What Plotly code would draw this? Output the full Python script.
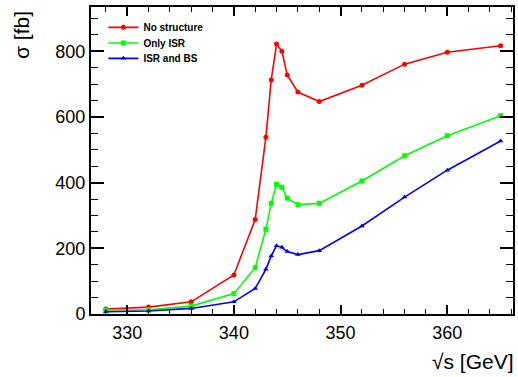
import plotly.graph_objects as go

sqrt_s = [328, 332, 336, 340, 342, 343, 343.5, 344, 344.5, 345, 346, 348, 352, 356, 360, 365]
no_structure = [15, 21, 37, 119, 288, 538, 713, 822, 800, 728, 676, 647, 697, 761, 797, 817]
only_isr = [12, 13, 24, 62, 141, 258, 337, 395, 386, 353, 333, 337, 405, 482, 543, 604]
isr_and_bs = [7, 9, 17, 37, 78, 136, 177, 208, 203, 190, 181, 193, 268, 356, 438, 527]

FONT = "Liberation Sans, Arial, sans-serif"

fig = go.Figure()
fig.add_trace(go.Scatter(x=sqrt_s, y=no_structure, mode="lines+markers", name="No structure",
                         legend="legend",
                         line=dict(color="#ff0000", width=1.6),
                         marker=dict(symbol="circle", size=5, color="#ff0000")))
fig.add_trace(go.Scatter(x=sqrt_s, y=only_isr, mode="lines+markers", name="Only ISR",
                         legend="legend2",
                         line=dict(color="#00ff00", width=1.6),
                         marker=dict(symbol="square", size=5, color="#00ff00")))
fig.add_trace(go.Scatter(x=sqrt_s, y=isr_and_bs, mode="lines+markers", name="ISR and BS",
                         legend="legend3",
                         line=dict(color="#0000ff", width=1.6),
                         marker=dict(symbol="triangle-up", size=5, color="#0000ff")))

axis_common = dict(showline=True, linecolor="black", linewidth=2, mirror="allticks",
                   ticks="inside", tickcolor="black", showgrid=False, zeroline=False,
                   tickfont=dict(family=FONT, size=18, color="black"))

fig.update_xaxes(range=[326.61, 366.16], tickmode="array", tickvals=[330, 340, 350, 360],
                 ticklen=9, tickwidth=1.5, ticklabelstandoff=1,
                 minor=dict(ticks="inside", dtick=2, tick0=0, ticklen=5, tickcolor="black", tickwidth=1.2),
                 **axis_common)
fig.update_yaxes(range=[0, 935], tickmode="array", tickvals=[0, 200, 400, 600, 800],
                 ticklen=13, tickwidth=1.5,
                 minor=dict(ticks="inside", dtick=50, tick0=0, ticklen=7, tickcolor="black", tickwidth=1.2),
                 **axis_common)

def leg(y):
    return dict(x=0.0294, y=y, xanchor="left", yanchor="top",
                bgcolor="rgba(0,0,0,0)", borderwidth=0,
                font=dict(family=FONT, size=10, color="black", weight="bold"),
                itemwidth=30)

fig.update_layout(
    width=518, height=377,
    margin=dict(l=91, r=3, t=7, b=63),
    paper_bgcolor="white", plot_bgcolor="white",
    showlegend=True,
    legend=leg(0.981),
    legend2=leg(0.930),
    legend3=leg(0.880),
    annotations=[
        dict(text="√s [GeV]", xref="paper", yref="paper", x=1.0, y=-0.155,
             xanchor="right", yanchor="middle", showarrow=False, xshift=3,
             font=dict(family=FONT, size=21, color="black")),
        dict(text="σ [fb]", xref="paper", yref="paper", x=-0.165, y=0.91,
             xanchor="center", yanchor="middle", textangle=-90, showarrow=False,
             font=dict(family=FONT, size=21, color="black")),
    ],
)

fig.write_html("out.html")
